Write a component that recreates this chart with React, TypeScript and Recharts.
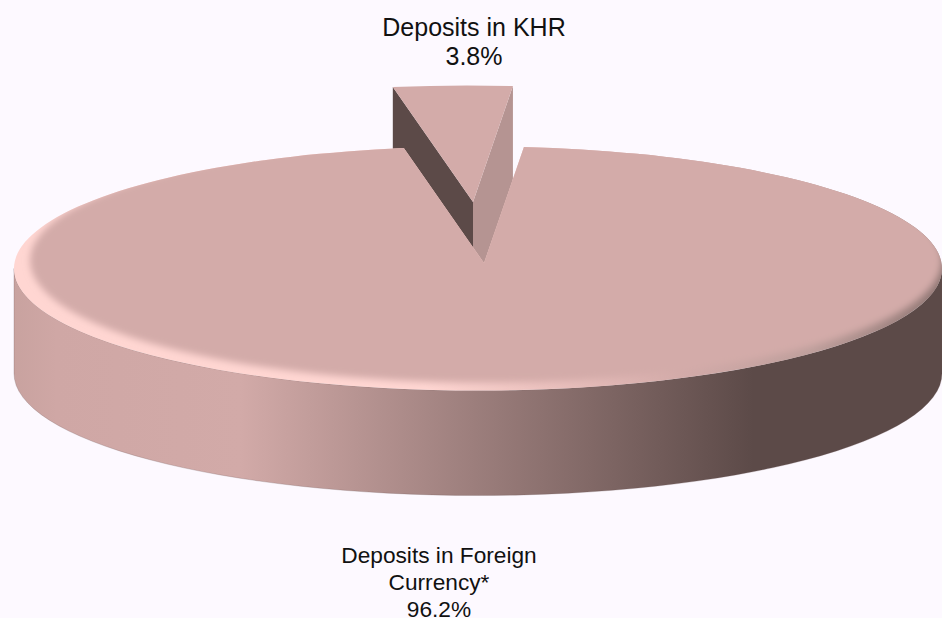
import React from 'react';
import { PieChart, Pie } from 'recharts';

const categories = ['Deposits in KHR', 'Deposits in Foreign Currency*'];
const shares = [3.8, 96.2];

const chartData = categories.map((name, i) => ({ name, value: shares[i] }));

// label lines, the long name wraps like the original
const labelLines: Record<string, string[]> = {
  'Deposits in KHR': ['Deposits in KHR'],
  'Deposits in Foreign Currency*': ['Deposits in Foreign', 'Currency*'],
};
const labelStyle: Record<string, { x: number; y: number; size: number; step: number }> = {
  'Deposits in KHR': { x: 474, y: 36, size: 25, step: 29 },
  'Deposits in Foreign Currency*': { x: 439, y: 563, size: 22.7, step: 26.8 },
};

const BG = '#FDF9FF';
const TOP = '#D3ABA9';
const DARK = '#5C4A48';
const MID_WALL = '#B59492';

const TILT = 0.263; // ry / rx of the top face
const DEPTH = 105;
const APEX = { x: 6, y: -5.5 }; // pie centre sits off the ellipse centre
const EXPLODE = { x: -11, y: -61 };
const WIDEN = 0.6; // perspective makes the small wedge look a bit wider

const rad = (deg: number) => (deg * Math.PI) / 180;

function PieShape3D(props: any) {
  const { cx, cy, outerRadius: r, startAngle, endAngle, name } = props;
  const ry = r * TILT;
  const at = (deg: number) => ({
    x: cx + r * Math.cos(rad(deg)),
    y: cy - ry * Math.sin(rad(deg)),
  });
  const apex = { x: cx + APEX.x, y: cy + APEX.y };

  if (name === categories[0]) {
    const a = at(startAngle + WIDEN);
    const b = at(endAngle - WIDEN);
    const dx = EXPLODE.x;
    const dy = EXPLODE.y;
    const p = { x: apex.x + dx, y: apex.y + dy };
    const l = { x: a.x + dx, y: a.y + dy };
    const q = { x: b.x + dx, y: b.y + dy };
    return (
      <g>
        <path d={`M${l.x} ${l.y}L${p.x} ${p.y}L${p.x} ${p.y + DEPTH}L${l.x} ${l.y + DEPTH}Z`} fill={DARK} />
        <path d={`M${q.x} ${q.y}L${p.x} ${p.y}L${p.x} ${p.y + DEPTH}L${q.x} ${q.y + DEPTH}Z`} fill={MID_WALL} />
        <path d={`M${p.x} ${p.y}L${l.x} ${l.y}A${r} ${ry} 0 0 1 ${q.x} ${q.y}Z`} fill={TOP} />
      </g>
    );
  }

  // a = right of the notch, b = left of it, clockwise the long way round
  const a = at(startAngle - WIDEN);
  const b = at(endAngle + WIDEN);
  const topFace = `M${apex.x} ${apex.y}L${a.x} ${a.y}A${r} ${ry} 0 1 1 ${b.x} ${b.y}Z`;
  const wall = `M${cx - r} ${cy}A${r} ${ry} 0 0 0 ${cx + r} ${cy}L${cx + r} ${cy + DEPTH}A${r} ${ry} 0 0 1 ${cx - r} ${cy + DEPTH}Z`;
  return (
    <g>
      <defs>
        <linearGradient id="wallGrad" gradientUnits="userSpaceOnUse" x1={0} x2={942} y1={0} y2={0}>
          <stop offset="0.012" stopColor="#C8A29F" />
          <stop offset="0.06" stopColor="#CFA7A5" />
          <stop offset="0.255" stopColor="#D2AAA8" />
          <stop offset="0.8" stopColor={DARK} />
          <stop offset="1" stopColor={DARK} />
        </linearGradient>
        <linearGradient id="bevelGrad" gradientUnits="userSpaceOnUse" x1={0} x2={942} y1={0} y2={0}>
          <stop offset="0" stopColor="#FFD6D2" />
          <stop offset="0.45" stopColor="#FFD6D2" />
          <stop offset="0.58" stopColor="#EBC1BE" />
          <stop offset="0.72" stopColor={TOP} />
          <stop offset="0.86" stopColor="#BE9F9C" />
          <stop offset="1" stopColor="#8F7673" />
        </linearGradient>
        <clipPath id="topClip">
          <path d={topFace} />
        </clipPath>
        <filter id="bevelBlur" x="-5%" y="-10%" width="110%" height="120%">
          <feGaussianBlur stdDeviation="3.5" />
        </filter>
      </defs>
      <path d={wall} fill="url(#wallGrad)" stroke="#6B5856" strokeOpacity={0.35} strokeWidth={0.7} />
      <path d={topFace} fill="url(#bevelGrad)" />
      <g clipPath="url(#topClip)">
        <ellipse cx={cx + 8} cy={cy - 8} rx={r - 8} ry={ry} fill={TOP} filter="url(#bevelBlur)" />
      </g>
    </g>
  );
}

function PieLabel(props: any) {
  const { name, percent } = props;
  const lines = [...labelLines[name], `${(percent * 100).toFixed(1)}%`];
  const st = labelStyle[name];
  return (
    <text x={st.x} y={st.y} textAnchor="middle" fontFamily="'Liberation Sans', Arial, sans-serif" fontSize={st.size} fill="#111">
      {lines.map((line, i) => (
        <tspan key={line} x={st.x} y={st.y + i * st.step}>
          {line}
        </tspan>
      ))}
    </text>
  );
}

export default function App() {
  return (
    <div style={{ position: 'absolute', left: 0, top: 0, width: 942, height: 618, background: BG, overflow: 'hidden' }}>
      <PieChart width={942} height={618} margin={{ top: 0, right: 0, bottom: 0, left: 0 }}>
        <Pie
          data={chartData}
          dataKey="value"
          nameKey="name"
          cx={478}
          cy={268.5}
          innerRadius={0}
          outerRadius={464}
          startAngle={98.6}
          endAngle={-261.4}
          stroke="none"
          fill={TOP}
          shape={PieShape3D}
          label={PieLabel}
          labelLine={false}
          isAnimationActive={false}
        />
      </PieChart>
    </div>
  );
}
